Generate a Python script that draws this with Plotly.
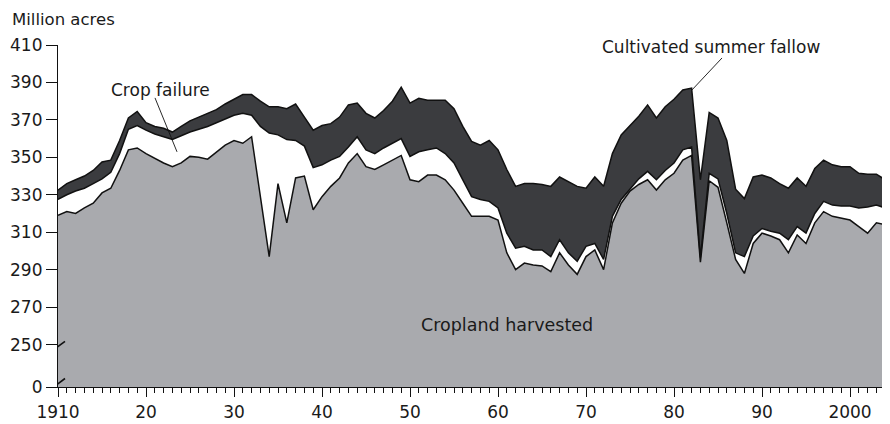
import plotly.graph_objects as go

years = list(range(1910, 2006))

harvested = [
    319, 321, 320, 323, 325.5, 331, 333.5, 343, 354, 355,
    352, 349.5, 347, 345, 347, 350.5, 350, 349, 353, 356.5,
    359, 357.5, 361, 329, 297, 336, 315, 339, 340, 322,
    329, 334.5, 339, 347, 352, 345, 343.5, 346, 348.5, 351,
    338, 337, 340.5, 340.5, 338, 332.5, 325.5, 318.5, 318.5, 318.5,
    316.5, 299, 290, 293.5, 292.5, 292, 289, 299, 292.5, 287.5,
    297, 300.5, 290, 315, 325.5, 332, 335.5, 338, 332.5, 338,
    341.5, 348.5, 351, 294, 337.5, 334, 315, 295.5, 288, 304,
    309.5, 308, 306, 299, 308.5, 304, 315, 321, 318.5, 317.5,
    316.5, 313, 309.5, 315, 314, 313,
]

harvested_plus_failure = [
    327.5, 330, 332, 333.5, 336, 338.5, 342, 352, 365, 367,
    364.5, 362.5, 361, 359.5, 361.5, 363.5, 365, 366.5, 368.5, 370.5,
    372.5, 373.5, 372.5, 366.5, 363, 362, 359.5, 359, 356, 344.5,
    346, 348.5, 350.5, 355.5, 361, 354, 352, 355, 357.5, 360,
    350.5, 353, 354, 355, 352, 347, 338, 329, 327.5, 326.5,
    323, 309.5, 301.5, 302.5, 300.5, 300.5, 297, 306, 299, 294.5,
    302.5, 304, 295.5, 318.5, 327.5, 333, 338.5, 342.5, 338, 343,
    347, 354, 355.5, 296.5, 341.5, 338.5, 320, 299, 297, 308,
    312, 310.5, 309.5, 306, 313, 309.5, 320, 326.5, 324.5, 324,
    324, 323, 323.5, 324.5, 323, 322,
]

total = [
    332.5, 336, 338, 340, 343, 347.5, 348.5, 359, 371, 374.5,
    368.5, 366.5, 365.5, 363.5, 366.5, 369.5, 371.5, 373.5, 375.5, 378.5,
    381, 383.5, 383.5, 380, 377, 377, 376, 378.5, 371.5, 364.5,
    367, 368, 371.5, 378, 379, 373.5, 371, 375, 380, 387.5,
    379, 381.5, 380.5, 380.5, 380.5, 376, 366.5, 358.5, 356.5, 359,
    354, 343.5, 334.5, 336, 336, 335.5, 334.5, 339.5, 337, 334.5,
    333.5, 339.5, 334.5, 352, 362, 367, 372, 378, 371, 377,
    381, 386, 387, 338, 374, 371, 359, 333, 328, 339.5,
    340.5, 339, 336, 333.5, 339, 334.5, 344, 348.5, 346, 345,
    345, 341.5, 341, 341, 338, 335,
]

x_tick_vals = [1910, 1920, 1930, 1940, 1950, 1960, 1970, 1980, 1990, 2000]
x_tick_text = ["1910", "20", "30", "40", "50", "60", "70", "80", "90", "2000"]
y_tick_vals_real = [250, 270, 290, 310, 330, 350, 370, 390, 410]

# ---- layout geometry (reference pixels) ----
OFF = 8                      # page body margin in the browser
REF_W, REF_H = 890, 424
W, H = REF_W - OFF, REF_H - OFF
L_REF, T_REF, B_REF = 58, 45, 387.5
PX_PER_YEAR = 8.8
PX_PER_UNIT = 37.5 / 20.0


def px2x(px):
    return 1910 + (px - L_REF) / PX_PER_YEAR


def py2y(py):
    return 410 - (py - T_REF) / PX_PER_UNIT


L = L_REF - OFF
T = T_REF - OFF
B = REF_H - B_REF
PLOT_W = W - L
PLOT_H = H - T - B

y_zero_pos = py2y(B_REF)  # broken axis: "0" placed just below 250
y_tick_vals = [y_zero_pos] + y_tick_vals_real
y_tick_text = ["0"] + [str(v) for v in y_tick_vals_real]

GRAY = "#a9aaae"
DARK = "#3b3c3f"
LINE = "#111111"
TXT = "#1a1a1a"
FONT = "DejaVu Sans"
LW = 1.5

fig = go.Figure()
fig.add_trace(go.Scatter(
    x=years, y=harvested, mode="lines", fill="tozeroy",
    fillcolor=GRAY, line=dict(color=LINE, width=LW), name="Cropland harvested",
))
fig.add_trace(go.Scatter(
    x=years, y=harvested_plus_failure, mode="lines", fill="tonexty",
    fillcolor="#ffffff", line=dict(color=LINE, width=LW), name="Crop failure",
))
fig.add_trace(go.Scatter(
    x=years, y=total, mode="lines", fill="tonexty",
    fillcolor=DARK, line=dict(color=LINE, width=LW), name="Cultivated summer fallow",
))

shapes = []
# axis break marks
for (x0, y0, x1, y1) in [(50, 353, 65, 341.7), (50, 390, 65, 379)]:
    shapes.append(dict(type="line", xref="x", yref="y",
                       x0=px2x(x0), y0=py2y(y0), x1=px2x(x1), y1=py2y(y1),
                       line=dict(color=LINE, width=1.6)))
# leader lines
for (x0, y0, x1, y1) in [(155, 98, 177, 152), (722, 58, 692, 90)]:
    shapes.append(dict(type="line", xref="x", yref="y",
                       x0=px2x(x0), y0=py2y(y0), x1=px2x(x1), y1=py2y(y1),
                       line=dict(color=LINE, width=0.9)))

annotations = [
    dict(text="Million acres", xref="paper", yref="paper",
         x=(10 - L_REF) / PLOT_W, y=(B_REF - 19.5) / PLOT_H,
         xanchor="left", yanchor="middle", showarrow=False,
         font=dict(family=FONT, size=16.5, color=TXT)),
    dict(text="Crop failure", xref="x", yref="y",
         x=px2x(160.5), y=py2y(90), xanchor="center", yanchor="middle",
         showarrow=False, font=dict(family=FONT, size=17, color=TXT)),
    dict(text="Cultivated summer fallow", xref="x", yref="y",
         x=px2x(711), y=py2y(46.5), xanchor="center", yanchor="middle",
         showarrow=False, font=dict(family=FONT, size=17, color=TXT)),
    dict(text="Cropland harvested", xref="x", yref="y",
         x=px2x(507), y=py2y(325), xanchor="center", yanchor="middle",
         showarrow=False, font=dict(family=FONT, size=17.5, color=TXT)),
]

fig.update_layout(
    width=W, height=H,
    margin=dict(l=L, r=0, t=T, b=B, pad=0),
    paper_bgcolor="white", plot_bgcolor="white",
    showlegend=False,
    shapes=shapes, annotations=annotations,
    font=dict(family=FONT, color=TXT),
)
fig.update_xaxes(
    range=[1910, 1910 + PLOT_W / PX_PER_YEAR],
    tickmode="array", tickvals=x_tick_vals, ticktext=x_tick_text,
    ticks="outside", ticklen=9, tickwidth=1.2, tickcolor=LINE,
    showline=True, linecolor=LINE, linewidth=1.2,
    showgrid=False, zeroline=False,
    tickfont=dict(family=FONT, size=17, color=TXT),
    minor=dict(tickmode="array", tickvals=years, ticks="outside",
               ticklen=5, tickwidth=1, tickcolor=LINE, showgrid=False),
)
fig.update_yaxes(
    range=[y_zero_pos, 410],
    tickmode="array", tickvals=y_tick_vals, ticktext=y_tick_text,
    ticks="outside", ticklen=11, tickwidth=1.2, tickcolor=LINE,
    showline=True, linecolor=LINE, linewidth=1.2,
    showgrid=False, zeroline=False,
    tickfont=dict(family=FONT, size=17, color=TXT),
)

fig.write_html("out.html")
